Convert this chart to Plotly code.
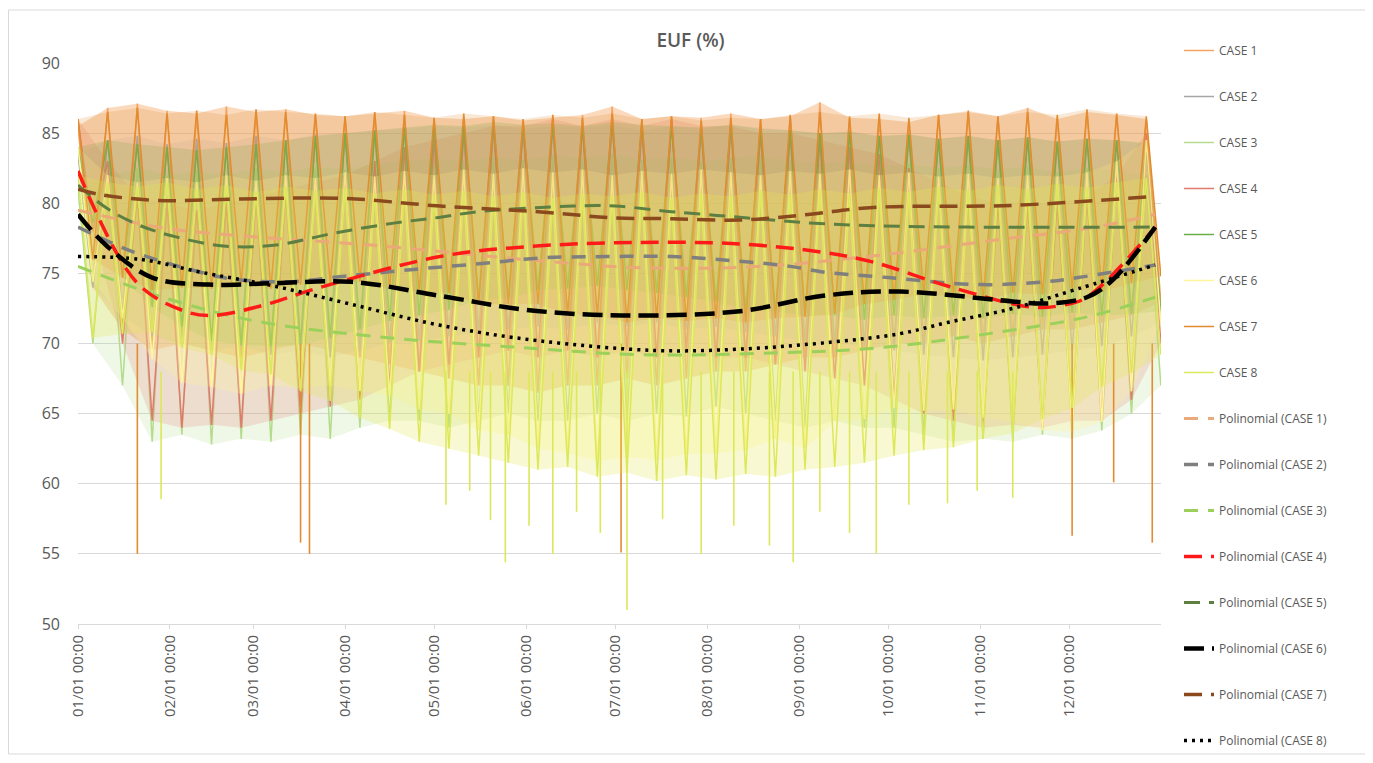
import pandas as pd
import plotly.graph_objects as go

# ---------------- data ----------------
year_start = "2019-01-01"
case_names = ["CASE 1", "CASE 2", "CASE 3", "CASE 4", "CASE 5", "CASE 6", "CASE 7", "CASE 8"]

# day-of-year of every sample (one high + one low per 10-day block)
hi_days = [0, 10, 20, 30, 40, 50, 60, 70, 80, 90, 100, 110, 120, 130, 140, 150, 160, 170, 180,
           190, 200, 210, 220, 230, 240, 250, 260, 270, 280, 290, 300, 310, 320, 330, 340, 350, 360]
lo_days = [5, 15, 25, 35, 45, 55, 65, 75, 85, 95, 105, 115, 125, 135, 145, 155, 165, 175, 185,
           195, 205, 215, 225, 235, 245, 255, 265, 275, 285, 295, 305, 315, 325, 335, 345, 355, 364.9]

c1_hi = [85.5, 86.8, 87.1, 86.6, 86.4, 86.9, 86.5, 86.7, 86.3, 86.2, 86.4, 86.6, 86.1, 86.0, 86.2, 85.9, 86.1, 86.3, 86.9,
         86.0, 86.2, 86.1, 86.4, 86.0, 86.2, 87.2, 86.1, 86.0, 85.8, 86.3, 86.5, 86.2, 86.8, 86.0, 86.5, 86.3, 86.0]
c1_lo = [74.0, 71.0, 69.5, 70.0, 69.5, 69.0, 69.5, 70.0, 69.5, 69.0, 68.5, 68.0, 67.5, 67.0, 67.0, 66.5, 67.0, 67.0, 67.5,
         67.0, 67.5, 68.0, 68.0, 68.5, 69.0, 69.0, 69.5, 70.0, 70.0, 70.5, 70.0, 70.5, 71.0, 71.0, 71.5, 72.0, 73.0]
c2_hi = [83.5, 84.5, 84.8, 84.2, 84.6, 84.3, 84.8, 84.5, 84.9, 85.0, 85.2, 85.3, 85.5, 85.4, 85.6, 85.3, 85.5, 85.4, 85.6,
         85.2, 85.5, 85.3, 85.6, 85.4, 85.2, 85.0, 85.1, 84.8, 84.9, 84.6, 84.8, 84.5, 84.7, 84.4, 84.6, 84.5, 84.2]
c2_lo = [74.0, 72.0, 70.5, 70.0, 69.5, 69.8, 69.2, 69.5, 69.0, 69.5, 70.0, 70.2, 70.5, 70.8, 71.0, 71.2, 71.0, 71.5, 71.2,
         71.5, 71.0, 71.2, 70.8, 70.5, 70.2, 70.0, 69.8, 69.5, 69.2, 69.0, 68.8, 69.0, 69.2, 69.5, 69.8, 70.5, 71.5]
c3_hi = [81.0, 82.0, 82.5, 82.0, 82.3, 82.0, 82.5, 82.2, 82.6, 82.4, 82.8, 83.0, 83.2, 83.0, 83.3, 83.1, 83.4, 83.2, 83.5,
         83.1, 83.3, 83.0, 83.2, 83.4, 83.0, 82.8, 83.0, 82.6, 82.8, 82.5, 82.7, 82.4, 82.6, 82.2, 82.5, 82.3, 82.0]
c3_lo = [70.0, 67.0, 63.0, 63.5, 62.8, 63.2, 63.0, 63.5, 63.2, 64.0, 64.5, 64.5, 64.0, 64.5, 65.0, 64.5, 64.5, 65.0, 64.5,
         65.0, 64.8, 65.5, 65.0, 64.5, 64.0, 64.5, 64.0, 64.0, 63.5, 63.0, 63.2, 63.0, 63.5, 63.2, 63.8, 65.0, 67.0]
c4_hi = [86.0, 83.0, 80.5, 80.0, 79.5, 80.0, 80.5, 81.0, 81.5, 82.0, 83.0, 84.0, 84.5, 85.0, 85.5, 85.5, 86.0, 85.5, 86.0,
         85.5, 86.0, 85.5, 85.5, 85.0, 85.0, 84.5, 84.0, 83.5, 82.5, 81.5, 80.5, 80.0, 80.0, 80.0, 80.5, 82.0, 85.0]
c4_lo = [78.0, 70.0, 64.5, 64.0, 64.2, 64.0, 64.5, 65.0, 65.5, 66.0, 67.0, 68.0, 68.5, 69.0, 69.5, 69.0, 69.5, 69.0, 69.5,
         69.0, 69.5, 69.0, 69.0, 68.5, 68.0, 67.5, 67.0, 66.0, 65.0, 64.5, 64.0, 64.2, 64.0, 64.5, 64.5, 66.0, 70.0]
c5_hi = [84.0, 84.5, 84.2, 84.0, 83.8, 84.0, 84.2, 84.5, 84.8, 85.0, 85.2, 85.4, 85.6, 85.5, 85.8, 85.6, 85.7, 85.5, 85.8,
         85.6, 85.5, 85.4, 85.6, 85.3, 85.2, 85.0, 85.1, 84.8, 84.9, 84.6, 84.8, 84.5, 84.7, 84.4, 84.6, 84.5, 84.3]
c5_lo = [78.6, 74.7, 72.6, 71.2, 70.2, 69.9, 69.8, 69.9, 70.4, 71.0, 71.6, 72.0, 72.4, 73.1, 73.2, 73.8, 73.9, 74.1, 73.8,
         73.6, 73.3, 73.0, 72.4, 72.3, 72.0, 72.0, 71.7, 72.0, 71.8, 72.0, 71.8, 72.1, 71.9, 72.2, 72.0, 72.1, 72.3]
c6_hi = [84.0, 82.0, 81.5, 81.8, 81.5, 82.0, 81.6, 82.0, 81.8, 82.2, 81.9, 82.3, 82.0, 82.4, 82.1, 82.5, 82.2, 82.4, 82.0,
         82.3, 82.1, 82.4, 82.2, 82.0, 82.3, 82.1, 82.4, 82.0, 82.2, 81.9, 82.1, 81.8, 82.0, 81.9, 82.2, 83.0, 84.5]
c6_lo = [74.4, 71.8, 68.9, 67.2, 66.9, 66.4, 67.0, 66.8, 67.0, 66.6, 66.3, 65.3, 65.0, 63.8, 63.5, 62.5, 62.2, 61.6, 61.9,
         61.7, 62.1, 62.2, 62.4, 63.2, 62.5, 64.5, 64.6, 65.4, 65.2, 65.3, 64.7, 64.4, 63.8, 63.7, 64.4, 66.6, 71.5]
c7_hi = [86.0, 86.5, 86.8, 86.4, 86.6, 86.3, 86.7, 86.5, 86.4, 86.2, 86.5, 86.3, 86.1, 86.4, 86.2, 86.0, 86.3, 86.1, 86.4,
         86.0, 86.2, 85.9, 86.1, 86.0, 86.3, 86.5, 86.2, 86.4, 86.1, 86.3, 86.6, 86.2, 86.5, 86.3, 86.7, 86.4, 86.2]
c7_lo = [76.0, 74.7, 73.8, 74.0, 73.9, 74.3, 73.9, 74.2, 74.3, 74.4, 73.9, 73.7, 73.6, 72.8, 72.8, 72.8, 72.1, 72.0, 71.5,
         71.8, 71.6, 71.8, 71.5, 71.8, 71.9, 72.1, 72.8, 73.1, 73.5, 73.4, 73.1, 73.6, 73.5, 73.9, 73.7, 74.3, 74.8]
c8_hi = [82.0, 81.5, 81.2, 81.5, 81.0, 81.3, 80.8, 81.2, 80.9, 81.1, 80.7, 81.0, 80.6, 80.9, 80.5, 80.8, 80.4, 80.7, 80.5,
         80.8, 80.4, 80.7, 80.5, 80.9, 80.6, 81.0, 80.7, 81.1, 80.8, 81.2, 80.9, 81.3, 81.0, 81.4, 81.1, 81.5, 81.8]
c8_lo = [70.4, 70.7, 70.8, 69.7, 69.2, 68.1, 67.8, 66.6, 65.9, 64.7, 63.9, 63.0, 62.5, 62.0, 61.5, 61.0, 61.2, 60.5, 60.8,
         60.2, 60.6, 60.3, 60.7, 60.5, 61.0, 61.2, 61.5, 62.0, 62.4, 62.6, 63.2, 63.6, 64.6, 65.4, 66.9, 67.9, 69.2]

# isolated deep dips
spike7_days = [20, 75, 78, 183, 335, 349, 362]
spike7_lows = [55.0, 55.8, 55.0, 55.1, 56.3, 60.1, 55.8]
spike7_tops = [70.0, 70.0, 70.0, 70.0, 70.0, 70.0, 70.0]
spike8_days = [28, 124, 132, 139, 144, 152, 160, 168, 176, 185, 197, 210, 221, 233, 241, 250, 260, 269, 280, 293, 303, 315]
spike8_lows = [58.9, 58.5, 59.5, 57.4, 54.4, 57.0, 55.0, 58.0, 56.5, 51.0, 57.5, 55.0, 57.0, 55.6, 54.4, 58.0, 56.5,
               55.0, 58.5, 58.6, 59.5, 59.0]
spike8_tops = [68.0, 68.0, 68.0, 68.0, 68.0, 68.0, 68.0, 68.0, 68.0, 68.0, 68.0, 68.0, 68.0, 68.0, 68.0, 68.0, 68.0,
               68.0, 68.0, 68.0, 68.0, 68.0]

# polynomial trend lines (day-of-year, value)
p1_days = [0, 30, 60, 100, 150, 190, 230, 270, 310, 340, 363]
p1_vals = [79.5, 78.2, 77.6, 77.0, 76.0, 75.4, 75.5, 76.3, 77.4, 78.2, 79.2]
p2_days = [0, 19, 41, 52, 70, 90, 114, 136, 156, 178, 200, 221, 240, 251, 273, 304, 326, 337, 363]
p2_vals = [78.3, 76.5, 75.1, 74.6, 74.4, 74.8, 75.3, 75.7, 76.1, 76.2, 76.2, 75.9, 75.5, 75.1, 74.7, 74.2, 74.4, 74.7, 75.6]
p3_days = [0, 30, 60, 100, 150, 190, 230, 270, 310, 340, 363]
p3_vals = [75.5, 73.2, 71.6, 70.5, 69.7, 69.2, 69.3, 69.7, 70.8, 71.9, 73.3]
p4_days = [0, 20, 36, 45, 62, 80, 122, 151, 187, 223, 251, 268, 293, 321, 331, 340, 363]
p4_vals = [82.3, 74.3, 72.3, 72.0, 72.7, 73.9, 76.2, 76.9, 77.2, 77.1, 76.5, 75.8, 74.1, 72.6, 72.7, 73.3, 78.3]
p5_days = [0, 10, 21, 33, 49, 66, 87, 107, 122, 135, 167, 181, 200, 223, 246, 268, 300, 363]
p5_vals = [81.3, 79.6, 78.4, 77.6, 76.95, 77.0, 77.9, 78.6, 79.0, 79.4, 79.8, 79.8, 79.4, 79.0, 78.6, 78.4, 78.3, 78.3]
p6_days = [0, 10, 25, 44, 66, 92, 122, 151, 183, 223, 251, 277, 315, 326, 340, 349, 363]
p6_vals = [79.2, 76.9, 74.7, 74.2, 74.3, 74.4, 73.4, 72.4, 72.0, 72.3, 73.4, 73.7, 73.0, 72.85, 73.3, 74.6, 78.3]
p7_days = [0, 8, 27, 55, 89, 122, 155, 181, 200, 223, 246, 268, 315, 363]
p7_vals = [81.0, 80.6, 80.2, 80.3, 80.35, 79.8, 79.4, 78.95, 78.9, 78.8, 79.2, 79.7, 79.85, 80.5]
p8_days = [0, 21, 41, 66, 92, 122, 155, 195, 223, 254, 277, 293, 315, 337, 363]
p8_vals = [76.2, 76.0, 75.1, 74.1, 72.8, 71.3, 70.2, 69.5, 69.6, 70.1, 70.7, 71.5, 72.5, 73.9, 75.6]

y_ticks = [50, 55, 60, 65, 70, 75, 80, 85, 90]

# ---------------- styling ----------------
case_colors = ["#F4A460", "#A6A6A6", "#B4DC8C", "#E07A6E", "#6AAF46", "#FFF59A", "#E38B2F", "#DCE85A"]
case_fill = ["rgba(244,164,96,0.42)", "rgba(166,166,176,0.15)", "rgba(180,220,140,0.22)", "rgba(224,122,110,0.20)",
             "rgba(106,175,70,0.22)", "rgba(255,245,154,0.28)", "rgba(227,139,47,0.20)", "rgba(226,232,80,0.25)"]
trend_colors = ["#EBA878", "#7F7F7F", "#9BD05A", "#FF1A1A", "#5E7F42", "#000000", "#8A4A1E", "#000000"]
trend_dash = ["14px,10px", "14px,10px", "14px,10px", "18px,9px", "16px,9px", "20px,8px", "18px,9px", "3px,5px"]
trend_width = [3, 3.5, 3, 3.5, 3, 4.5, 3.5, 3.5]

FONT = "Open Sans, Lato, sans-serif"
TXT = "#595959"

base = pd.Timestamp(year_start)


def to_dates(days):
    return [base + pd.Timedelta(days=d) for d in days]


his = [c1_hi, c2_hi, c3_hi, c4_hi, c5_hi, c6_hi, c7_hi, c8_hi]
los = [c1_lo, c2_lo, c3_lo, c4_lo, c5_lo, c6_lo, c7_lo, c8_lo]
p_days = [p1_days, p2_days, p3_days, p4_days, p5_days, p6_days, p7_days, p8_days]
p_vals = [p1_vals, p2_vals, p3_vals, p4_vals, p5_vals, p6_vals, p7_vals, p8_vals]

fig = go.Figure()

hi_x = to_dates(hi_days)
lo_x = to_dates(lo_days)

for i, name in enumerate(case_names):
    hi, lo = his[i], los[i]
    # envelope band
    fig.add_trace(go.Scatter(
        x=hi_x + lo_x[::-1], y=hi + lo[::-1], fill="toself", fillcolor=case_fill[i],
        line=dict(width=0), mode="lines", hoverinfo="skip", showlegend=False,
        legendgroup="c%d" % i))
    # alternating high / low samples
    zx, zy = [], []
    for k in range(len(hi)):
        zx += [hi_x[k], lo_x[k]]
        zy += [hi[k], lo[k]]
    fig.add_trace(go.Scatter(
        x=zx, y=zy, mode="lines", name=name, line=dict(color=case_colors[i], width=1.5),
        legendgroup="c%d" % i))
    if i == 6 or i == 7:
        sd, sl, st = (spike7_days, spike7_lows, spike7_tops) if i == 6 else (spike8_days, spike8_lows, spike8_tops)
        sx, sy = [], []
        for d, lo_v, top_v in zip(to_dates(sd), sl, st):
            sx += [d, d, None]
            sy += [top_v, lo_v, None]
        fig.add_trace(go.Scatter(x=sx, y=sy, mode="lines", line=dict(color=case_colors[i], width=1.6),
                                 showlegend=False, hoverinfo="skip", legendgroup="c%d" % i))

for i, name in enumerate(case_names):
    fig.add_trace(go.Scatter(
        x=to_dates(p_days[i]), y=p_vals[i], mode="lines", name="Polinomial (%s)" % name,
        line=dict(color=trend_colors[i], width=trend_width[i], dash=trend_dash[i], shape="spline", smoothing=1.0),
        legendgroup="p%d" % i))

# geometry in figure pixels (the page adds an 8 px body margin)
W, H = 1365, 747
L, R, T, B = 70, 1153, 55, 616


def px_x(p):
    return (p - L) / (R - L)


def px_y(p):
    return (B - p) / (B - T)


shapes = [
    dict(type="rect", xref="paper", yref="paper", x0=px_x(0.5), x1=px_x(1361), y0=px_y(746), y1=px_y(2),
         line=dict(color="#D9D9D9", width=1), fillcolor="rgba(0,0,0,0)", layer="below"),
]

fig.update_layout(
    width=W, height=H,
    margin=dict(l=L, r=W - R, t=T, b=H - B, pad=0),
    paper_bgcolor="white", plot_bgcolor="white",
    font=dict(family=FONT, color=TXT, size=12),
    title=dict(text="EUF (%)", x=0.5, xref="container", y=1 - 32 / H, yref="container",
               xanchor="center", yanchor="middle",
               font=dict(family=FONT, size=19, color=TXT, weight=600)),
    xaxis=dict(type="date", range=[base, base + pd.Timedelta(days=364.95)],
               tick0=year_start, dtick="M1", tickformat="%m/%d %H:%M", tickangle=-90,
               showgrid=False, showline=True, linecolor="#D9D9D9", linewidth=1,
               ticks="outside", ticklen=4, tickcolor="#D9D9D9",
               tickfont=dict(family=FONT, size=15, color=TXT), zeroline=False),
    yaxis=dict(range=[50, 90], tickvals=y_ticks, showgrid=True, gridcolor="#D9D9D9", gridwidth=1,
               zeroline=False, showline=False, ticks="", ticklabelstandoff=17,
               tickfont=dict(family=FONT, size=16, color=TXT)),
    legend=dict(x=px_x(1171), y=px_y(32), xanchor="left", yanchor="top",
                traceorder="grouped", tracegroupgap=27, maxheight=740,
                font=dict(family=FONT, size=12, color=TXT), bgcolor="rgba(0,0,0,0)"),
    shapes=shapes,
    showlegend=True,
)

fig.write_html("out.html")
